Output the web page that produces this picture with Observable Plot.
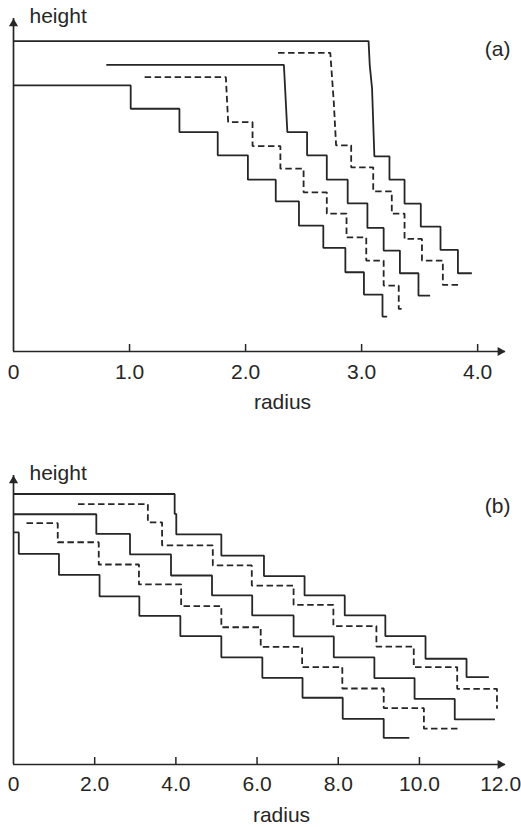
<!DOCTYPE html>
<html>
<head>
<meta charset="utf-8">
<script src="https://cdn.jsdelivr.net/npm/d3@7"></script>
<script src="https://cdn.jsdelivr.net/npm/@observablehq/plot@0.6"></script>
<style>
  html, body { margin: 0; padding: 0; background: #fff; }
  svg { display: block; }
</style>
</head>
<body>
<div id="chart"></div>
<script>
// ---------- Panel (a): radius 0–4 ----------
const aTicks = [1, 2, 3, 4];
const aTickLabels = ["0", "1.0", "2.0", "3.0", "4.0"];
const aLabelPos = [0, 1, 2, 3, 4];
const aSolid1 = [[0,9.32],[3.06,9.32],[3.07,8.60],[3.09,7.90],[3.11,5.86],[3.24,5.86],[3.24,5.16],[3.37,5.16],[3.37,4.44],[3.51,4.44],[3.51,3.75],[3.68,3.75],[3.68,3.05],[3.83,3.05],[3.83,2.35],[3.95,2.35]];
const aDash1  = [[2.28,8.97],[2.73,8.97],[2.76,7.50],[2.78,6.19],[2.91,6.19],[2.91,5.53],[3.10,5.53],[3.10,4.81],[3.26,4.81],[3.26,4.14],[3.37,4.14],[3.37,3.38],[3.52,3.38],[3.52,2.73],[3.70,2.73],[3.70,2.00],[3.84,2.00]];
const aSolid2 = [[0.80,8.61],[2.33,8.61],[2.34,7.95],[2.36,6.59],[2.53,6.59],[2.53,5.89],[2.70,5.89],[2.70,5.16],[2.88,5.16],[2.88,4.45],[3.05,4.45],[3.05,3.71],[3.19,3.71],[3.19,3.03],[3.33,3.03],[3.33,2.35],[3.49,2.35],[3.49,1.68],[3.59,1.68]];
const aDash2  = [[1.13,8.24],[1.83,8.24],[1.84,7.55],[1.85,6.89],[2.06,6.89],[2.06,6.17],[2.30,6.17],[2.30,5.49],[2.50,5.49],[2.50,4.78],[2.70,4.78],[2.70,4.14],[2.87,4.14],[2.87,3.43],[3.04,3.43],[3.04,2.73],[3.19,2.73],[3.19,1.98],[3.32,1.98],[3.32,1.28],[3.37,1.28]];
const aSolid3 = [[0,7.99],[1.01,7.99],[1.01,7.29],[1.43,7.29],[1.43,6.59],[1.76,6.59],[1.76,5.89],[2.02,5.89],[2.02,5.16],[2.26,5.16],[2.26,4.51],[2.46,4.51],[2.46,3.78],[2.67,3.78],[2.67,3.11],[2.86,3.11],[2.86,2.38],[3.02,2.38],[3.02,1.71],[3.18,1.71],[3.18,1.05],[3.22,1.05]];

// ---------- Panel (b): radius 0–12 ----------
const bTicks = [2, 4, 6, 8, 10];
const bTickLabels = ["0", "2.0", "4.0", "6.0", "8.0", "10.0", "12.0"];
const bLabelPos = [0, 2, 4, 6, 8, 10, 12];
const bSolid1 = [[0,9.36],[3.97,9.36],[3.97,8.67],[4.01,8.67],[4.01,7.96],[5.12,7.96],[5.12,7.23],[6.17,7.23],[6.17,6.52],[7.17,6.52],[7.17,5.85],[8.16,5.85],[8.16,5.16],[9.16,5.16],[9.16,4.44],[10.15,4.44],[10.15,3.66],[11.16,3.66],[11.16,3.02],[11.71,3.02]];
const bDash1  = [[1.59,9.01],[3.31,9.01],[3.31,8.38],[3.66,8.38],[3.66,7.58],[4.91,7.58],[4.91,6.89],[5.87,6.89],[5.87,6.19],[6.90,6.19],[6.90,5.52],[7.88,5.52],[7.88,4.79],[8.94,4.79],[8.94,4.08],[9.86,4.08],[9.86,3.37],[10.93,3.37],[10.93,2.62],[11.91,2.62],[11.91,1.93]];
const bSolid2 = [[0,8.66],[2.04,8.66],[2.04,7.98],[2.87,7.98],[2.87,7.27],[3.88,7.27],[3.88,6.54],[4.89,6.54],[4.89,5.85],[5.88,5.85],[5.88,5.16],[6.90,5.16],[6.90,4.43],[7.89,4.43],[7.89,3.71],[8.89,3.71],[8.89,2.99],[9.88,2.99],[9.88,2.27],[10.87,2.27],[10.87,1.56],[11.86,1.56]];
const bDash2  = [[0.32,8.35],[1.09,8.35],[1.09,7.69],[2.10,7.69],[2.10,6.92],[3.09,6.92],[3.09,6.23],[4.13,6.23],[4.13,5.48],[5.12,5.48],[5.12,4.75],[6.09,4.75],[6.09,4.07],[7.11,4.07],[7.11,3.37],[8.10,3.37],[8.10,2.63],[9.12,2.63],[9.12,1.95],[10.11,1.95],[10.11,1.24],[10.96,1.24]];
const bSolid3 = [[0,8.03],[0.13,8.03],[0.13,7.29],[1.12,7.29],[1.12,6.56],[2.12,6.56],[2.12,5.82],[3.10,5.82],[3.10,5.14],[4.11,5.14],[4.11,4.44],[5.12,4.44],[5.12,3.71],[6.13,3.71],[6.13,3.00],[7.12,3.00],[7.12,2.31],[8.11,2.31],[8.11,1.58],[9.12,1.58],[9.12,0.92],[9.75,0.92]];

const INK = "#262626";
const FONT = "'Liberation Sans', Arial, Helvetica, sans-serif";

function panel(cfg) {
  const {lines, xmax, ticks, labelPos, labels, tag, height, marginTop, marginBottom,
         tickDy, radiusDx, radiusDy} = cfg;
  const ymax = 10;
  const marks = [
    // axes
    Plot.ruleY([0], {x1: 0, x2: xmax, stroke: INK, strokeWidth: 1.7}),
    Plot.ruleX([0], {y1: 0, y2: ymax, stroke: INK, strokeWidth: 1.7}),
    Plot.dot([0], {x: xmax, y: 0, symbol: "triangle", rotate: 90, r: 3.4, fill: INK, dx: -5.2}),
    Plot.dot([0], {x: 0, y: ymax, symbol: "triangle", r: 3.4, fill: INK, dy: 5.2}),
    // inward tick marks
    Plot.ruleX(ticks, {x: d => d, y1: 0, y2: 0, insetTop: -7, stroke: INK, strokeWidth: 1.5}),
    // tick labels
    Plot.text(labelPos, {x: d => d, y: 0, text: (d, i) => labels[i], dy: tickDy, lineAnchor: "bottom",
      fontSize: 21, fill: INK}),
    // axis labels
    Plot.text(["radius"], {frameAnchor: "bottom", text: d => d, dx: radiusDx, dy: radiusDy,
      lineAnchor: "bottom", fontSize: 21, fill: INK}),
    Plot.text(["height"], {frameAnchor: "top-left", text: d => d, dx: 16, dy: 4.5,
      textAnchor: "start", lineAnchor: "bottom", fontSize: 21, fill: INK}),
    Plot.text([tag], {frameAnchor: "top-right", text: d => d, dx: 5, dy: 37,
      textAnchor: "end", lineAnchor: "bottom", fontSize: 21, fill: INK})
  ];
  for (const {pts, dashed} of lines) {
    marks.push(Plot.line(pts, {x: d => d[0], y: d => d[1], stroke: INK, strokeWidth: 1.8,
      strokeLinejoin: "miter", strokeLinecap: "butt",
      strokeDasharray: dashed ? "6.5,3.5" : null}));
  }
  return Plot.plot({
    width: 521,
    height,
    marginLeft: 13,
    marginRight: 16,
    marginTop,
    marginBottom,
    x: {domain: [0, xmax], axis: null},
    y: {domain: [0, ymax], axis: null},
    style: {fontFamily: FONT, background: "#fff", overflow: "visible"},
    marks
  });
}

const chart = document.getElementById("chart");
chart.append(panel({
  lines: [
    {pts: aSolid1, dashed: false}, {pts: aDash1, dashed: true},
    {pts: aSolid2, dashed: false}, {pts: aDash2, dashed: true},
    {pts: aSolid3, dashed: false}
  ],
  xmax: 4.24, ticks: aTicks, labelPos: aLabelPos, labels: aTickLabels, tag: "(a)",
  height: 415, marginTop: 18, marginBottom: 64, tickDy: 27, radiusDx: 23, radiusDy: 57
}));
chart.append(panel({
  lines: [
    {pts: bSolid1, dashed: false}, {pts: bDash1, dashed: true},
    {pts: bSolid2, dashed: false}, {pts: bDash2, dashed: true},
    {pts: bSolid3, dashed: false}
  ],
  xmax: 12.12, ticks: bTicks, labelPos: bLabelPos, labels: bTickLabels, tag: "(b)",
  height: 412, marginTop: 60, marginBottom: 63, tickDy: 26, radiusDx: 22, radiusDy: 57.7
}));
</script>
</body>
</html>
